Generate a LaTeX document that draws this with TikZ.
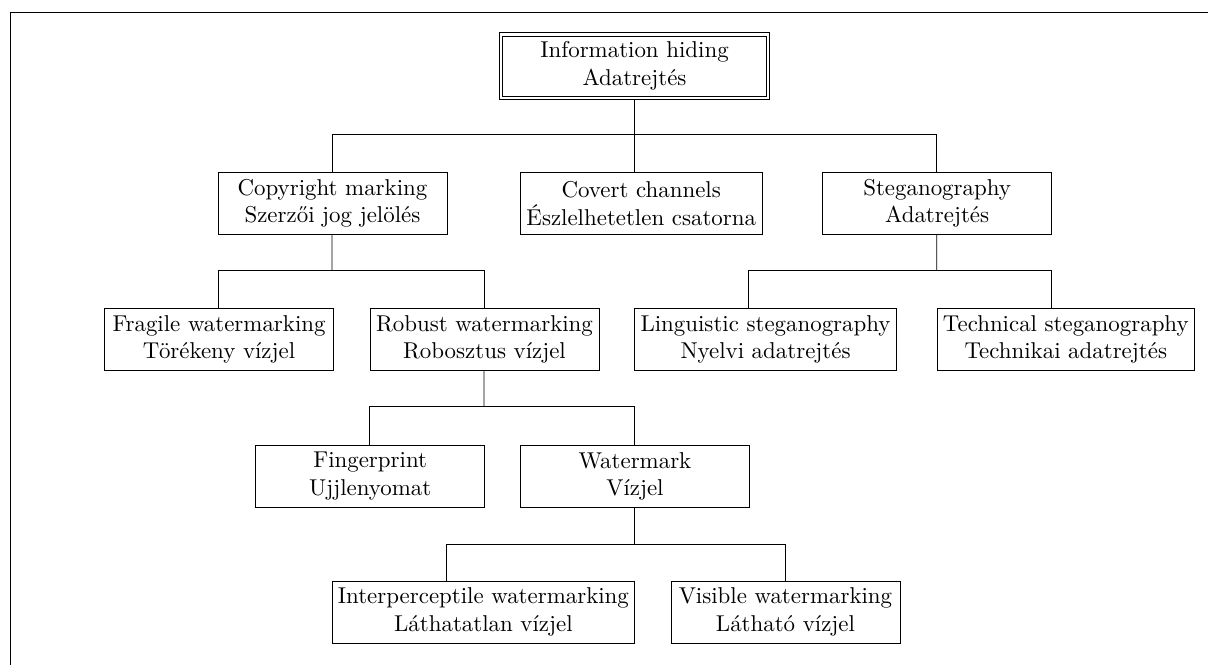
\documentclass[tikz,border=0pt]{standalone}
\usepackage{fontspec}
\begin{document}
\begin{tikzpicture}[x=0.43667pt,y=-0.43667pt,
  bx/.style={draw, align=center, inner xsep=2.6pt, inner ysep=0pt,
    line width=0.4pt, minimum width=100pt, minimum height=27pt,
    anchor=north west, font=\fontsize{10}{12}\selectfont},
  conn/.style={draw, line width=0.4pt}]
\useasboundingbox (0,0) rectangle (1208,664);
\draw[line width=0.5pt] (10.7,670) -- (10.7,12.3) -- (1215,12.3);
% nodes
\node[bx, anchor=center, minimum width=115.1pt, minimum height=26.2pt] (root) at (634.5,66) {Information hiding\\Adatrejtés};
\draw[line width=0.4pt] ([shift={(-1.2pt,1.2pt)}]root.north west) rectangle ([shift={(1.2pt,-1.2pt)}]root.south east);
\node[bx] (copy) at (217.5,172) {Copyright marking\\Szerzői jog jelölés};
\node[bx] (cov) at (520,172) {Covert channels\\Észlelhetetlen csatorna};
\node[bx] (steg) at (822.2,172) {Steganography\\Adatrejtés};
\node[bx] (frag) at (104.1,308) {Fragile watermarking\\Törékeny vízjel};
\node[bx] (rob) at (369.5,308) {Robust watermarking\\Robosztus vízjel};
\node[bx] (ling) at (634.1,308) {Linguistic steganography\\Nyelvi adatrejtés};
\node[bx] (tech) at (936.5,308) {Technical steganography\\Technikai adatrejtés};
\node[bx] (fing) at (255.2,444.8) {Fingerprint\\Ujjlenyomat};
\node[bx] (wat) at (520,444.8) {Watermark\\Vízjel};
\node[bx] (inter) at (331.5,580.7) {Interperceptile watermarking\\Láthatatlan vízjel};
\node[bx] (vis) at (670.5,580.7) {Visible watermarking\\Látható vízjel};
% bus points
\coordinate (b1) at (634.5,134.3);
\coordinate (b2) at (332,270.3);
\coordinate (b3) at (936.7,270.3);
\coordinate (b4) at (484,406.9);
\coordinate (b5) at (634.5,544);
% connectors
\draw[conn] ([yshift=-1.2pt]root.south) -- (b1) -- ([xshift=50pt]cov.north west);
\draw[conn] ([xshift=50pt]copy.north west) |- (b1) -| ([xshift=50pt]steg.north west);
\draw[conn] ([xshift=50pt]copy.south west) -- (b2);
\draw[conn] ([xshift=50pt]frag.north west) |- (b2) -| ([xshift=50pt]rob.north west);
\draw[conn] ([xshift=50pt]steg.south west) -- (b3);
\draw[conn] ([xshift=50pt]ling.north west) |- (b3) -| ([xshift=50pt]tech.north west);
\draw[conn] ([xshift=50pt]rob.south west) -- (b4);
\draw[conn] ([xshift=50pt]fing.north west) |- (b4) -| ([xshift=50pt]wat.north west);
\draw[conn] ([xshift=50pt]wat.south west) -- (b5);
\draw[conn] ([xshift=50pt]inter.north west) |- (b5) -| ([xshift=50pt]vis.north west);
\end{tikzpicture}
\end{document}
